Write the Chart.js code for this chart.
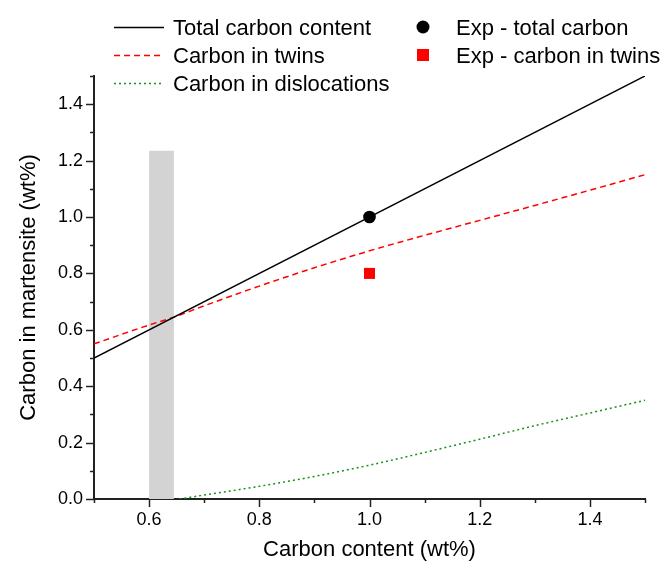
<!DOCTYPE html>
<html>
<head>
<meta charset="utf-8">
<script src="https://cdn.jsdelivr.net/npm/chart.js@4/dist/chart.umd.min.js"></script>
<style>
html,body{margin:0;padding:0;background:#fff;}
#wrap{width:668px;height:563px;}
</style>
</head>
<body>
<div id="wrap"><canvas id="c" width="668" height="563"></canvas></div>
<script>
// Data
const totalX = [0.5, 1.5];
const totalY = [0.5, 1.5];
const twinsX = [0.5, 0.6, 0.645, 0.7, 0.8, 0.9, 1.0, 1.1, 1.2, 1.3, 1.4, 1.5];
const twinsY = [0.55, 0.617, 0.645, 0.685, 0.755, 0.82, 0.88, 0.935, 0.988, 1.041, 1.095, 1.15];
const dislocX = [0.655, 0.7, 0.8, 0.9, 1.0, 1.1, 1.2, 1.3, 1.4, 1.5];
const dislocY = [0.0, 0.014, 0.045, 0.08, 0.12, 0.165, 0.212, 0.26, 0.305, 0.35];
const expTotalX = [1.0];
const expTotalY = [1.0];
const expTwinsX = [1.0];
const expTwinsY = [0.8];
const bandX = [0.6, 0.645];
const bandTop = 1.235;
const xTicks = [0.6, 0.8, 1.0, 1.2, 1.4];
const yTicks = [0.0, 0.2, 0.4, 0.6, 0.8, 1.0, 1.2, 1.4];
const legendLabels = ["Total carbon content", "Carbon in twins", "Carbon in dislocations", "Exp - total carbon", "Exp - carbon in twins"];
const xTitle = "Carbon content (wt%)";
const yTitle = "Carbon in martensite (wt%)";

const FONT = "'Liberation Sans', Arial, Helvetica, sans-serif";
const pts = (xs, ys) => xs.map((x, i) => ({x: x, y: ys[i]}));

const isMajor = (v, majors) => majors.some(m => Math.abs(m - v) < 1e-6);

const tickPlugin = {
  id: 'tickMarks',
  afterDraw(chart) {
    const ctx = chart.ctx;
    const xs = chart.scales.x, ys = chart.scales.y;
    ctx.save();
    ctx.strokeStyle = '#222';
    ctx.lineWidth = 1.5;
    const ay = ys.bottom, ax = xs.left;
    xs.ticks.forEach(t => {
      const px = Math.round(xs.getPixelForValue(t.value)) + 0.5;
      const len = isMajor(t.value, xTicks) ? 8 : 4;
      ctx.beginPath(); ctx.moveTo(px, ay); ctx.lineTo(px, ay + len); ctx.stroke();
    });
    ys.ticks.forEach(t => {
      const py = Math.round(ys.getPixelForValue(t.value)) + 0.5;
      const len = isMajor(t.value, yTicks) ? 8 : 4;
      ctx.beginPath(); ctx.moveTo(ax, py); ctx.lineTo(ax - len, py); ctx.stroke();
    });
    ctx.restore();
  }
};

const legendPlugin = {
  id: 'customLegend',
  afterDraw(chart) {
    const ctx = chart.ctx;
    ctx.save();
    ctx.font = "22px " + FONT;
    ctx.fillStyle = '#000';
    ctx.textBaseline = 'alphabetic';
    const rows = [35, 63, 91];
    const lx0 = 114, lx1 = 164, tx = 173;
    const styles = [
      {c: '#000', d: []},
      {c: '#ff0000', d: [6, 4]},
      {c: '#1a8f1a', d: [2, 3]}
    ];
    for (let i = 0; i < 3; i++) {
      const cy = rows[i] - 8;
      ctx.strokeStyle = styles[i].c; ctx.lineWidth = 1.3; ctx.setLineDash(styles[i].d);
      ctx.beginPath(); ctx.moveTo(lx0, cy + 0.5); ctx.lineTo(lx1, cy + 0.5); ctx.stroke();
      ctx.setLineDash([]);
      ctx.fillText(legendLabels[i], tx, rows[i]);
    }
    const mx = 423;
    ctx.fillStyle = '#000';
    ctx.beginPath(); ctx.arc(mx, rows[0] - 8, 6.5, 0, Math.PI * 2); ctx.fill();
    ctx.fillStyle = '#ff0000';
    ctx.fillRect(mx - 6, rows[1] - 8 - 6, 12, 12);
    ctx.fillStyle = '#000';
    ctx.fillText(legendLabels[3], 456, rows[0]);
    ctx.fillText(legendLabels[4], 456, rows[1]);
    ctx.restore();
  }
};

new Chart(document.getElementById('c'), {
  type: 'scatter',
  data: {
    datasets: [
      {label: legendLabels[3], data: pts(expTotalX, expTotalY), pointStyle: 'circle', pointRadius: 6.3, pointBackgroundColor: '#000', pointBorderWidth: 0, order: 0},
      {label: legendLabels[4], data: pts(expTwinsX, expTwinsY), pointStyle: 'rect', pointRadius: 7.8, pointBackgroundColor: '#ff0000', pointBorderWidth: 0, order: 0},
      {label: legendLabels[0], data: pts(totalX, totalY), showLine: true, borderColor: '#000', borderWidth: 1.5, pointRadius: 0, order: 1},
      {label: legendLabels[1], data: pts(twinsX, twinsY), showLine: true, borderColor: '#ff0000', borderWidth: 1.5, borderDash: [6, 4], pointRadius: 0, cubicInterpolationMode: 'monotone', order: 1},
      {label: legendLabels[2], data: pts(dislocX, dislocY), showLine: true, borderColor: '#1a8f1a', borderWidth: 1.5, borderDash: [2, 3], pointRadius: 0, cubicInterpolationMode: 'monotone', order: 1},
      {label: 'band', data: pts(bandX, [bandTop, bandTop]), showLine: true, fill: 'origin', backgroundColor: '#d3d3d3', borderWidth: 0, borderColor: 'rgba(0,0,0,0)', pointRadius: 0, order: 10}
    ]
  },
  options: {
    responsive: false,
    animation: false,
    devicePixelRatio: 1,
    layout: {padding: {top: 76, right: 23, left: 0, bottom: 0}},
    plugins: {legend: {display: false}, tooltip: {enabled: false}},
    scales: {
      x: {
        type: 'linear', min: 0.5, max: 1.5,
        afterFit: s => { s.height = 64; },
        grid: {display: false, drawTicks: false},
        border: {display: true, color: '#222', width: 2},
        ticks: {
          stepSize: 0.1, padding: 10, color: '#000',
          font: {family: FONT, size: 18},
          maxRotation: 0, autoSkip: false,
          callback: v => isMajor(v, xTicks) ? v.toFixed(1) : ''
        },
        title: {display: true, text: xTitle, color: '#000', font: {family: FONT, size: 22}, padding: {top: 4, bottom: 0}}
      },
      y: {
        type: 'linear', min: 0, max: 1.5,
        afterFit: s => { s.width = 94; },
        grid: {display: false, drawTicks: false},
        border: {display: true, color: '#222', width: 2},
        ticks: {
          stepSize: 0.1, padding: 11, color: '#000',
          font: {family: FONT, size: 18},
          autoSkip: false,
          callback: v => isMajor(v, yTicks) ? v.toFixed(1) : ''
        },
        title: {display: true, text: yTitle, color: '#000', font: {family: FONT, size: 22}, padding: {top: 16, bottom: 4}}
      }
    }
  },
  plugins: [tickPlugin, legendPlugin]
});
</script>
</body>
</html>
